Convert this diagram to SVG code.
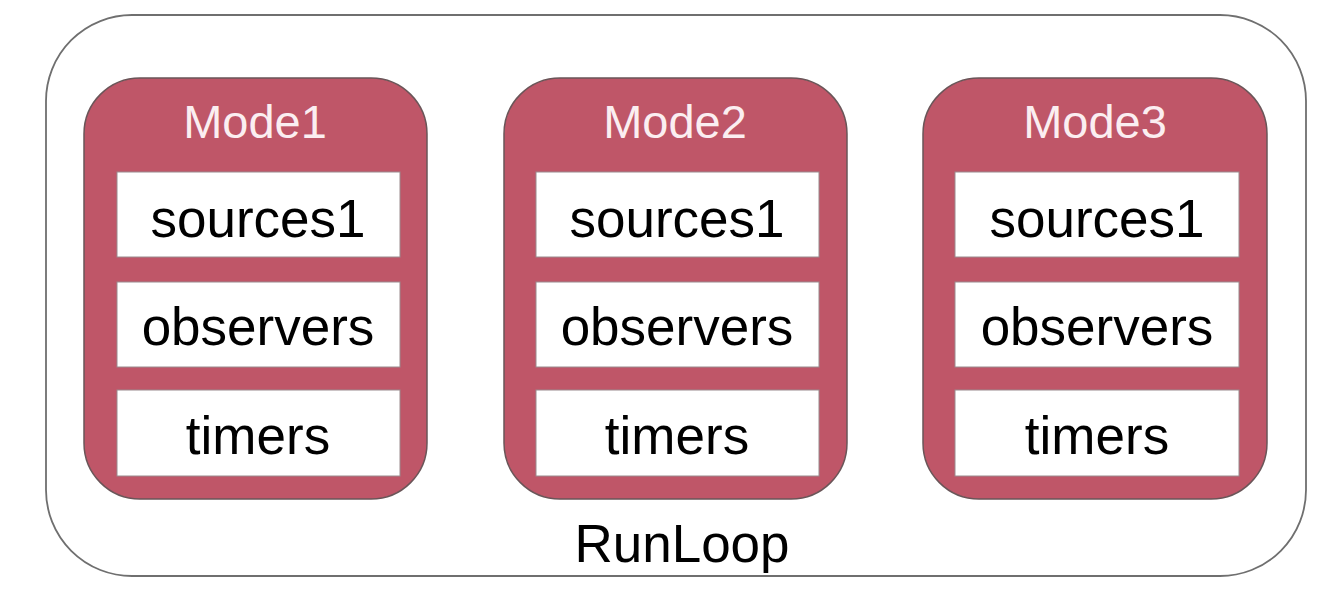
<svg xmlns="http://www.w3.org/2000/svg" width="1326" height="590" viewBox="0 0 1326 590">
<style>
.outer{fill:#ffffff;stroke:#6f6f6f;stroke-width:1.8}
.mode{fill:#bf5668;stroke:#6a5558;stroke-width:1.5}
.item{fill:#ffffff;stroke:#9a8a8d;stroke-width:1}
.mt{font-family:"Liberation Sans",Arial,sans-serif;font-size:47px;fill:#fbeef1;text-anchor:middle}
.it{font-family:"Liberation Sans",Arial,sans-serif;font-size:53px;fill:#000000;text-anchor:middle}
.rl{font-family:"Liberation Sans",Arial,sans-serif;font-size:53px;fill:#000000;text-anchor:middle}
</style>
<rect width="1326" height="590" fill="#ffffff"/>
<g id="runloop">
<rect class="outer" x="46" y="15" width="1260" height="561" rx="86" ry="86"/>
<text class="rl" x="682" y="562">RunLoop</text>
</g>
<g id="mode1">
<rect class="mode" x="84" y="78" width="343" height="421" rx="56" ry="56"/>
<text class="mt" x="255" y="138">Mode1</text>
<rect class="item" x="117" y="172" width="283" height="85"/>
<text class="it" x="258" y="237">sources1</text>
<rect class="item" x="117" y="282" width="283" height="85"/>
<text class="it" x="258" y="345">observers</text>
<rect class="item" x="117" y="390" width="283" height="86"/>
<text class="it" x="258" y="454">timers</text>
</g>
<g id="mode2">
<rect class="mode" x="504" y="78" width="343" height="421" rx="56" ry="56"/>
<text class="mt" x="675" y="138">Mode2</text>
<rect class="item" x="536" y="172" width="283" height="85"/>
<text class="it" x="677" y="237">sources1</text>
<rect class="item" x="536" y="282" width="283" height="85"/>
<text class="it" x="677" y="345">observers</text>
<rect class="item" x="536" y="390" width="283" height="86"/>
<text class="it" x="677" y="454">timers</text>
</g>
<g id="mode3">
<rect class="mode" x="923" y="78" width="344" height="421" rx="56" ry="56"/>
<text class="mt" x="1095" y="138">Mode3</text>
<rect class="item" x="955" y="172" width="284" height="85"/>
<text class="it" x="1097" y="237">sources1</text>
<rect class="item" x="955" y="282" width="284" height="85"/>
<text class="it" x="1097" y="345">observers</text>
<rect class="item" x="955" y="390" width="284" height="86"/>
<text class="it" x="1097" y="454">timers</text>
</g>
<g id="connectors"></g>
</svg>
